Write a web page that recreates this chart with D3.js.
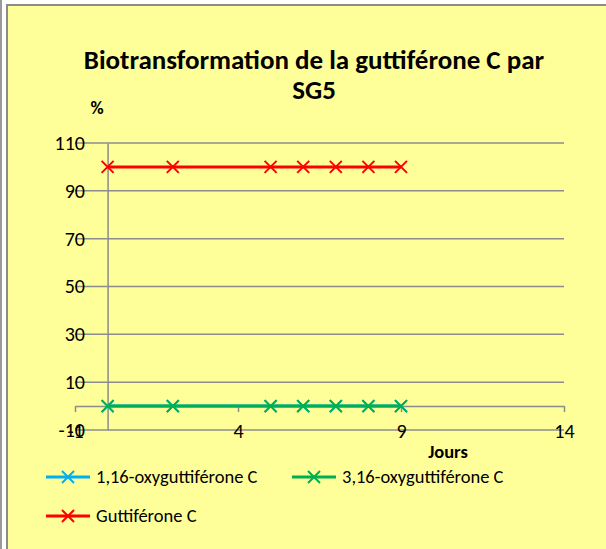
<!DOCTYPE html>
<html>
<head>
<meta charset="utf-8">
<script src="https://cdn.jsdelivr.net/npm/d3@7"></script>
<style>
  html, body { margin: 0; padding: 0; background: #ffffff; }
  svg { display: block; }
  text { font-family: Carlito, Lato, "Open Sans", sans-serif; fill: #000; }
</style>
</head>
<body>
<svg id="chart" width="606" height="549"></svg>
<script>
// Days of sampling and percentage of each compound
const days = [0, 2, 5, 6, 7, 8, 9];
const oxy116 = [0, 0, 0, 0, 0, 0, 0];
const oxy316 = [0, 0, 0, 0, 0, 0, 0];
const guttiferone = [100, 100, 100, 100, 100, 100, 100];

const seriesNames = ["1,16-oxyguttiférone C", "3,16-oxyguttiférone C", "Guttiférone C"];
const seriesColors = ["#00B0F0", "#00B050", "#FF0000"];

const xTicks = [-1, 4, 9, 14];
const yTicks = [-10, 10, 30, 50, 70, 90, 110];

const titleLines = ["Biotransformation de la guttiférone C par", "SG5"];
const yAxisTitle = "%";
const xAxisTitle = "Jours";

const series = [oxy116, oxy316, guttiferone].map((vals, i) => ({
  name: seriesNames[i],
  color: seriesColors[i],
  points: days.map((d, j) => ({ x: d, y: vals[j] }))
}));

const FONT = "Carlito, Lato, 'Open Sans', sans-serif";
const plain = d => String(d);   // keep a plain hyphen for negative labels
const svg = d3.select("#chart");

// Outer frame and chart area
svg.append("rect").attr("x", 0).attr("y", 0).attr("width", 606).attr("height", 549).attr("fill", "#ffffff");
svg.append("line").attr("x1", 1).attr("x2", 1).attr("y1", 0).attr("y2", 549)
  .attr("stroke", "#9a9a9a").attr("stroke-width", 2);
svg.append("rect").attr("x", 7).attr("y", 5).attr("width", 610).attr("height", 560)
  .attr("fill", "#FFFF99").attr("stroke", "#8c8c8c").attr("stroke-width", 2);

const x = d3.scaleLinear().domain([-1, 14]).range([75, 564]);
const y = d3.scaleLinear().domain([-10, 110]).range([430, 143]);

// Title
svg.append("text").attr("x", 314).attr("y", 69).attr("text-anchor", "middle")
  .attr("font-size", 27).attr("font-weight", "bold").text(titleLines[0]);
svg.append("text").attr("x", 314).attr("y", 99).attr("text-anchor", "middle")
  .attr("font-size", 27).attr("font-weight", "bold").text(titleLines[1]);

// Horizontal gridlines
svg.append("g").selectAll("line").data(yTicks).join("line")
  .attr("x1", x(-1)).attr("x2", x(14))
  .attr("y1", d => y(d)).attr("y2", d => y(d))
  .attr("stroke", "#8c8c8c").attr("stroke-width", 1.5);

// Y axis (crosses the x axis at 0)
const yAxis = d3.axisLeft(y).tickValues(yTicks).tickFormat(plain).tickSize(0).tickPadding(0);
const gy = svg.append("g").attr("transform", `translate(${x(0)},0)`).call(yAxis);
gy.select(".domain").attr("stroke", "#8c8c8c").attr("stroke-width", 1.5);
gy.selectAll("text").attr("x", 85 - x(0)).attr("font-size", 20)
  .attr("font-family", FONT).attr("fill", "#000");

// X axis along y = 0, labels sit at the bottom of the plot
const xAxis = d3.axisBottom(x).tickValues(xTicks).tickFormat(plain).tickSize(6).tickSizeOuter(0).tickPadding(0);
const gx = svg.append("g").attr("transform", `translate(0,${y(0)})`).call(xAxis);
gx.select(".domain").attr("stroke", "#8c8c8c").attr("stroke-width", 1.5);
gx.selectAll(".tick line").attr("stroke", "#8c8c8c").attr("stroke-width", 1.5);
gx.selectAll("text").attr("y", y(-10) - y(0) + 2).attr("dy", "0.32em").attr("font-size", 20)
  .attr("font-family", FONT).attr("fill", "#000");

// Axis titles
svg.append("text").attr("x", 97).attr("y", 114).attr("text-anchor", "middle")
  .attr("font-size", 18).attr("font-weight", "bold").text(yAxisTitle);
svg.append("text").attr("x", 448).attr("y", 458).attr("text-anchor", "middle")
  .attr("font-size", 18.5).attr("font-weight", "bold").text(xAxisTitle);

// Series lines and markers
const line = d3.line().x(d => x(d.x)).y(d => y(d.y));
const cross = (g, cx, cy, color) => {
  const s = 6;
  g.append("path")
    .attr("d", `M${cx - s},${cy - s}L${cx + s},${cy + s}M${cx - s},${cy + s}L${cx + s},${cy - s}`)
    .attr("stroke", color).attr("stroke-width", 2).attr("fill", "none");
};
series.forEach(s => {
  const g = svg.append("g");
  g.append("path").datum(s.points).attr("d", line)
    .attr("fill", "none").attr("stroke", s.color).attr("stroke-width", 3);
  s.points.forEach(p => cross(g, x(p.x), y(p.y), s.color));
});

// Legend
const legendPos = [[46, 477], [292, 477], [46, 516]];
series.forEach((s, i) => {
  const [lx, ly] = legendPos[i];
  const g = svg.append("g");
  g.append("line").attr("x1", lx).attr("x2", lx + 44).attr("y1", ly).attr("y2", ly)
    .attr("stroke", s.color).attr("stroke-width", 3);
  cross(g, lx + 22, ly, s.color);
  g.append("text").attr("x", lx + 50).attr("y", ly).attr("dy", "0.35em")
    .attr("font-size", 18.5).text(s.name);
});
</script>
</body>
</html>
